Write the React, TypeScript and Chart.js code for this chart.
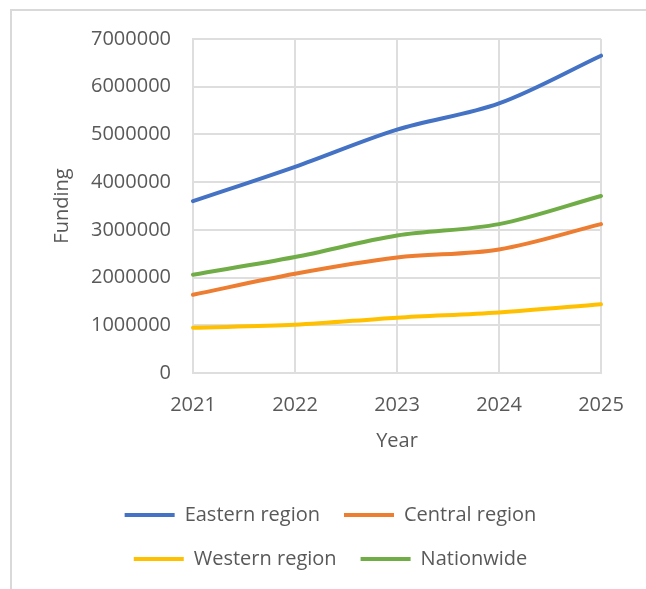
import React, { useEffect, useRef } from "react";
import { Chart, registerables } from "chart.js";

Chart.register(...registerables);

const years = ["2021", "2022", "2023", "2024", "2025"];
const eastern = [3600000, 4320000, 5100000, 5650000, 6650000];
const central = [1640000, 2080000, 2420000, 2590000, 3120000];
const western = [950000, 1010000, 1160000, 1270000, 1440000];
const nationwide = [2060000, 2430000, 2880000, 3120000, 3710000];
const seriesNames = ["Eastern region", "Central region", "Western region", "Nationwide"];
const seriesColors = ["#4472C4", "#ED7D31", "#FFC000", "#70AD47"];
const yMin = 0;
const yMax = 7000000;
const yStep = 1000000;
const xTitle = "Year";
const yTitle = "Funding";

export default function App() {
  const ref = useRef<HTMLCanvasElement>(null);
  useEffect(() => {
    const FONT = "'Open Sans', sans-serif";
    const TEXT = "#595959";
    const GRID = "#dedede";
    const font = { family: FONT, size: 20 };
    const values = [eastern, central, western, nationwide];
    const chart = new Chart(ref.current as HTMLCanvasElement, {
      type: "line",
      data: {
        labels: years,
        datasets: values.map((v, i) => ({
          label: seriesNames[i],
          data: v,
          borderColor: seriesColors[i],
          backgroundColor: seriesColors[i],
          borderWidth: 4,
          tension: 0.33,
          pointRadius: 0,
          pointHoverRadius: 0,
          fill: false,
          borderCapStyle: "round",
          borderJoinStyle: "round",
        })),
      },
      options: {
        responsive: false,
        animation: false,
        devicePixelRatio: 1,
        layout: { padding: { left: 60, right: 45, top: 39, bottom: 10 } },
        plugins: {
          tooltip: { enabled: false },
          legend: {
            position: "bottom",
            align: "center",
            labels: {
              usePointStyle: true,
              pointStyle: "line",
              pointStyleWidth: 50,
              padding: 24,
              color: TEXT,
              font,
            },
          },
        },
        scales: {
          x: {
            grid: { color: GRID, lineWidth: 2, drawTicks: false },
            border: { color: GRID, width: 2 },
            ticks: { color: TEXT, font, padding: 20, maxRotation: 0, autoSkip: false },
            title: { display: true, text: xTitle, color: TEXT, font, padding: { top: 0, bottom: 28 } },
            afterFit: (s: any) => {
              s.height = 108;
            },
          },
          y: {
            min: yMin,
            max: yMax,
            grid: { color: GRID, lineWidth: 2, drawTicks: false },
            border: { color: GRID, width: 2 },
            ticks: {
              stepSize: yStep,
              color: TEXT,
              font,
              padding: 22,
              callback: (v: any) => String(v),
            },
            title: { display: true, text: yTitle, color: TEXT, font, padding: { top: -10, bottom: 0 } },
            afterFit: (s: any) => {
              s.width = 133;
            },
          },
        },
      } as any,
    });
    return () => chart.destroy();
  }, []);
  return (
    <>
      <div
        style={{
          position: "fixed",
          left: 10,
          top: 9,
          width: 636,
          height: 580,
          borderLeft: "2px solid #d9d9d9",
          borderTop: "2px solid #d9d9d9",
          boxSizing: "border-box",
        }}
      />
      <canvas ref={ref} width={646} height={589} style={{ position: "fixed", left: 0, top: 0 }} />
    </>
  );
}
